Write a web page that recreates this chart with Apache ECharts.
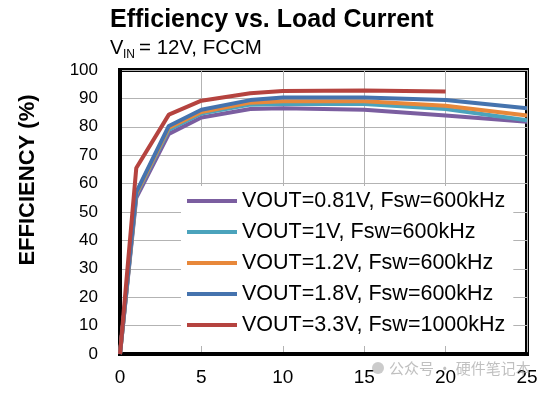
<!DOCTYPE html>
<html>
<head>
<meta charset="utf-8">
<script src="https://cdn.jsdelivr.net/npm/echarts@6/dist/echarts.min.js"></script>
<style>
html,body{margin:0;padding:0;background:#fff;}
#chart{width:548px;height:393px;}
</style>
</head>
<body>
<div id="chart"></div>
<script>
var loadCurrent = [0, 1, 3, 5, 8, 10, 15, 20, 25];
var seriesNames = [
  'VOUT=0.81V, Fsw=600kHz',
  'VOUT=1V, Fsw=600kHz',
  'VOUT=1.2V, Fsw=600kHz',
  'VOUT=1.8V, Fsw=600kHz',
  'VOUT=3.3V, Fsw=1000kHz'
];
var eff081 = [0, 55, 77.5, 83.3, 86.3, 86.5, 86, 84, 81.8];
var eff1   = [0, 56, 79, 84.7, 87.8, 88, 88, 86.3, 82.3];
var eff12  = [0, 56.5, 79.7, 85.2, 88.5, 89, 89, 87.4, 84];
var eff18  = [0, 57, 80.3, 86, 89.4, 90.3, 90.3, 89.4, 86.5];
var eff33  = [0, 65.5, 84.3, 89.2, 91.8, 92.6, 92.8, 92.4];
var xTicks = [0, 5, 10, 15, 20, 25];
var yTicks = [0, 10, 20, 30, 40, 50, 60, 70, 80, 90, 100];

var colors = ['#7b5ea0', '#4ba3bc', '#e8883a', '#4573ae', '#b5433f'];
var allData = [eff081, eff1, eff12, eff18, eff33];
var FONT = 'Liberation Sans, Arial, sans-serif';

function pairs(arr) {
  return arr.map(function (v, i) { return [loadCurrent[i], v]; });
}

var chart = echarts.init(document.getElementById('chart'), null, {renderer: 'canvas'});
chart.setOption({
  animation: false,
  backgroundColor: '#fff',
  color: colors,
  grid: {
    left: 120, right: 21, top: 70, bottom: 39,
    show: true, borderColor: '#000', borderWidth: 4, backgroundColor: 'transparent'
  },
  xAxis: {
    type: 'value', min: xTicks[0], max: xTicks[xTicks.length - 1], interval: 5,
    axisLine: {show: true, lineStyle: {color: '#000', width: 4}},
    axisTick: {show: false},
    splitLine: {show: true, lineStyle: {color: '#b3b3b3', width: 1}},
    axisLabel: {color: '#000', fontSize: 19, fontFamily: FONT, margin: 14}
  },
  yAxis: {
    type: 'value', min: yTicks[0], max: yTicks[yTicks.length - 1], interval: 10,
    axisLine: {show: true, lineStyle: {color: '#000', width: 4}},
    axisTick: {show: false},
    splitLine: {show: true, lineStyle: {color: '#b3b3b3', width: 1}},
    axisLabel: {color: '#000', fontSize: 17, fontFamily: FONT, margin: 22}
  },
  legend: {
    orient: 'vertical', left: 181, top: 186,
    backgroundColor: '#fff', padding: [4, 8, 10, 6],
    icon: 'rect',
    itemWidth: 50, itemHeight: 4, itemGap: 9,
    textStyle: {color: '#000', fontSize: 21.5, fontFamily: FONT, lineHeight: 21},
    data: seriesNames
  },
  series: allData.map(function (d, i) {
    return {
      name: seriesNames[i], type: 'line', data: pairs(d),
      symbol: 'none', smooth: false,
      lineStyle: {width: 4, color: colors[i]},
      itemStyle: {color: colors[i]}
    };
  }),
  graphic: [
    {type: 'text', x: 110, y: 20, style: {text: 'Efficiency vs. Load Current', font: 'bold 25px ' + FONT, fill: '#000', verticalAlign: 'middle'}},
    {type: 'text', x: 110, y: 48, style: {text: 'V', font: '20px ' + FONT, fill: '#000', verticalAlign: 'middle'}},
    {type: 'text', x: 123, y: 55, style: {text: 'IN', font: '12px ' + FONT, fill: '#000', verticalAlign: 'middle'}},
    {type: 'text', x: 139, y: 48, style: {text: '= 12V, FCCM', font: '20.5px ' + FONT, fill: '#000', verticalAlign: 'middle'}},
    {type: 'text', x: 28, y: 180, rotation: Math.PI / 2, style: {text: 'EFFICIENCY (%)', font: 'bold 22px ' + FONT, fill: '#000', align: 'center', verticalAlign: 'middle'}},
    {type: 'circle', shape: {cx: 378, cy: 368, r: 6}, style: {fill: 'rgba(160,160,160,0.55)'}, z: 100},
    {type: 'text', x: 389, y: 368, z: 100, style: {text: '公众号 · 硬件笔记本', font: '15px Noto Sans CJK SC', fill: 'rgba(150,150,150,0.6)', verticalAlign: 'middle'}}
  ]
});
</script>
</body>
</html>
